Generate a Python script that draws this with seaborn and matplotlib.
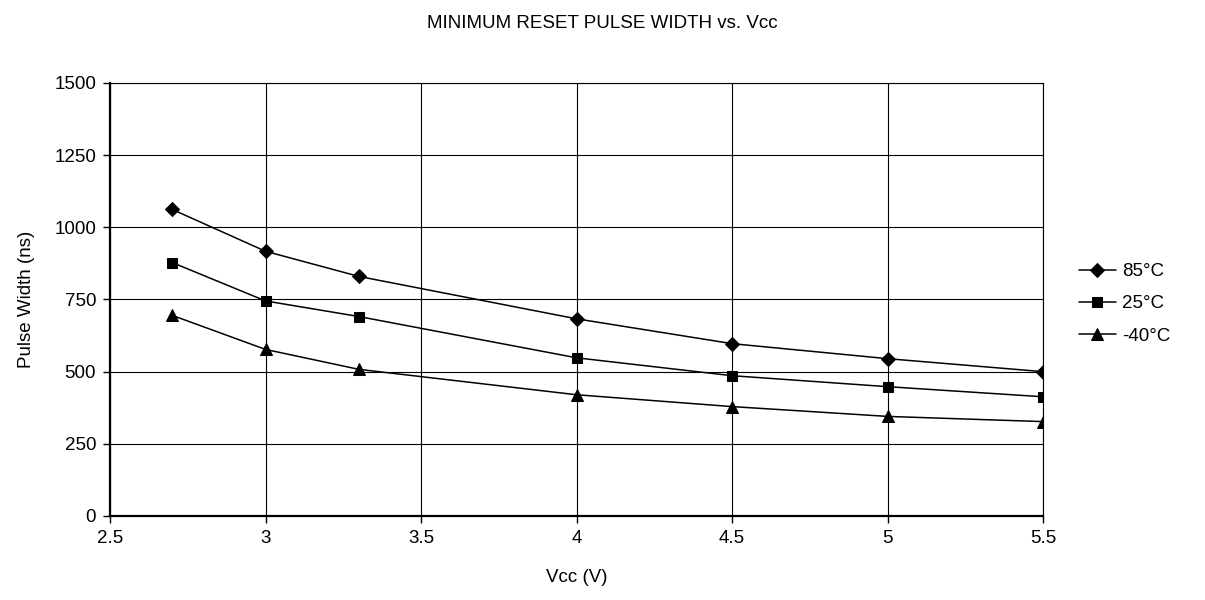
import pandas as pd
import matplotlib.pyplot as plt
import seaborn as sns

sns.set_style("white")
plt.rcParams["font.family"] = ["Liberation Sans", "DejaVu Sans"]
plt.rcParams["text.color"] = "black"
plt.rcParams["axes.labelcolor"] = "black"
plt.rcParams["xtick.color"] = "black"
plt.rcParams["ytick.color"] = "black"

# Data
vcc = [2.7, 3.0, 3.3, 4.0, 4.5, 5.0, 5.5]
pw_85 = [1062, 917, 830, 683, 597, 545, 500]
pw_25 = [878, 745, 691, 548, 486, 448, 413]
pw_m40 = [695, 577, 508, 420, 379, 345, 327]
series_names = ["85°C", "25°C", "-40°C"]

df = pd.DataFrame({
    "Vcc": vcc * 3,
    "Pulse Width": pw_85 + pw_25 + pw_m40,
    "Temp": [n for n in series_names for _ in vcc],
})

fig = plt.figure(figsize=(12.05, 6.0), dpi=100)
ax = fig.add_axes([0.0913, 0.14, 0.7743, 0.7217])

sns.lineplot(data=df, x="Vcc", y="Pulse Width", hue="Temp", style="Temp",
             palette=["black"] * 3, markers=["D", "s", "^"], dashes=False,
             markersize=7, linewidth=1.1, markeredgecolor="black", ax=ax)

# triangles a bit larger, like the reference
marker_sizes = {"D": 7, "s": 7, "^": 8.5}
for line in ax.lines:
    m = line.get_marker()
    if m in marker_sizes:
        line.set_markersize(marker_sizes[m])

ax.set_xlim(2.5, 5.5)
ax.set_ylim(0, 1500)
ax.set_xticks([2.5, 3, 3.5, 4, 4.5, 5, 5.5])
ax.set_xticklabels(["2.5", "3", "3.5", "4", "4.5", "5", "5.5"])
ax.set_yticks([0, 250, 500, 750, 1000, 1250, 1500])
ax.grid(True, color="black", linewidth=0.8)
ax.tick_params(axis="both", direction="out", length=5, width=1, labelsize=13.5,
               color="black", bottom=True, left=True, pad=5)
for s in ax.spines.values():
    s.set_color("black")
    s.set_linewidth(0.8)
ax.spines["left"].set_linewidth(1.6)
ax.spines["bottom"].set_linewidth(1.6)

ax.set_xlabel("Vcc (V)", fontsize=13.5, labelpad=16)
ax.set_ylabel("Pulse Width (ns)", fontsize=13.5, labelpad=14)
fig.suptitle("MINIMUM RESET PULSE WIDTH vs. Vcc", fontsize=13.5, y=0.975, x=0.5)

leg = ax.legend(loc="center left", bbox_to_anchor=(1.03, 0.49), frameon=False,
                fontsize=13.5, handlelength=2.0, handletextpad=0.3,
                labelspacing=0.8, borderaxespad=0)
for h in leg.legend_handles:
    m = h.get_marker()
    if m in marker_sizes:
        h.set_markersize(marker_sizes[m])

fig.savefig("out.png", dpi=100, facecolor="white")
